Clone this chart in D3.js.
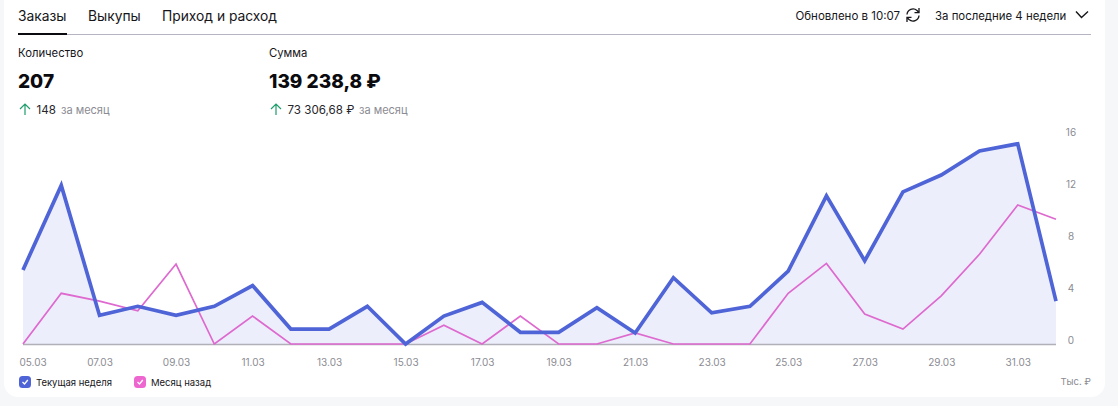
<!DOCTYPE html>
<html><head><meta charset="utf-8">
<script src="https://cdn.jsdelivr.net/npm/d3@7/dist/d3.min.js"></script>
<style>
html,body{margin:0;padding:0;background:#f6f7f9;overflow:hidden}
svg{display:block}
text{font-family:Inter,"Noto Sans",sans-serif}
.axis path,.axis line{display:none}
.axis text{fill:#8b8b93;font-size:10px;font-family:Inter,"Noto Sans",sans-serif}
</style></head><body>
<svg id="c" width="1118" height="406"></svg>
<script>
const dates=["05.03","06.03","07.03","08.03","09.03","10.03","11.03","12.03","13.03","14.03","15.03","16.03","17.03","18.03","19.03","20.03","21.03","22.03","23.03","24.03","25.03","26.03","27.03","28.03","29.03","30.03","31.03","01.04"];
const current=[5.7,12.2,2.2,2.9,2.2,2.9,4.5,1.15,1.15,2.9,0,2.15,3.2,0.9,0.9,2.8,0.85,5.1,2.4,2.9,5.6,11.4,6.4,11.7,13,14.85,15.4,3.3];
const monthAgo=[0,3.9,3.3,2.55,6.15,0,2.15,0,0,0,0,1.45,0,2.15,0,0,0.85,0,0,0,3.9,6.2,2.3,1.15,3.7,6.9,10.7,9.6];
const yTicks=[0,4,8,12,16];
const xTickLabels=dates.filter((d,i)=>i%2===0&&i<27);
const tabs=[["Заказы",18],["Выкупы",88],["Приход и расход",162]];
const legendItems=[["Текущая неделя",19,"#4f64d6"],["Месяц назад",134,"#ee66cf"]];
const metrics=[["Количество",18,"207","148","за месяц",36.5,61],["Сумма",269,"139 238,8 ₽","73 306,68 ₽","за месяц",287.5,359]];

const svg=d3.select("#c");
svg.append("path").attr("fill","#fff")
 .attr("d","M4,-20H1105V383a14,14 0 0 1 -14,14H18a14,14 0 0 1 -14,-14Z");

const x=d3.scalePoint().domain(dates).range([23,1056]);
const y=d3.scaleLinear().domain([0,16]).range([344,136]);

// header
tabs.forEach(t=>svg.append("text").attr("x",t[1]).attr("y",21).attr("font-size",13.8).attr("fill","#16161a").text(t[0]));
svg.append("line").attr("x1",18).attr("x2",1091).attr("y1",34.5).attr("y2",34.5).attr("stroke","#b4b4c2").attr("stroke-width",1);
svg.append("line").attr("x1",18).attr("x2",67).attr("y1",34).attr("y2",34).attr("stroke","#0b0b0f").attr("stroke-width",2);
svg.append("text").attr("x",795.5).attr("y",20).attr("font-size",11.5).attr("fill","#16161a").text("Обновлено в 10:07");
svg.append("text").attr("x",935).attr("y",20).attr("font-size",11.4).attr("fill","#16161a").text("За последние 4 недели");
svg.append("path").attr("d","M1076,11.5L1081.5,17.5L1088,11.5").attr("fill","none").attr("stroke","#16161a").attr("stroke-width",1.4);
svg.append("g").attr("fill","none").attr("stroke","#16161a").attr("stroke-width",1.3).call(g=>{
 g.append("path").attr("d","M907,14.5A6,6 0 0 1 917,10.5L919,12.5");
 g.append("path").attr("d","M919,8V12.7H914.5");
 g.append("path").attr("d","M919,15.5A6,6 0 0 1 909,19.5L907,17.5");
 g.append("path").attr("d","M907,22V17.3H911.5");
});

// metrics
metrics.forEach(m=>{
 svg.append("text").attr("x",m[1]).attr("y",57).attr("font-size",11.3).attr("fill","#16161a").text(m[0]);
 svg.append("text").attr("x",m[1]).attr("y",88).attr("font-size",19).attr("font-weight",800).attr("fill","#0b0b0f").text(m[2]);
 const ax=m[1]+7;
 svg.append("path").attr("d",`M${ax},115V104M${ax-5},109L${ax},104L${ax+5},109`).attr("fill","none").attr("stroke","#1f9d6b").attr("stroke-width",1.2);
 svg.append("text").attr("x",m[5]).attr("y",114).attr("font-size",11.6).attr("fill","#26262b").text(m[3]);
 svg.append("text").attr("x",m[6]).attr("y",114).attr("font-size",11).attr("fill","#8b8b93").text(m[4]);
});

// area + lines
const pts=dates.map((d,i)=>i);
svg.append("path").datum(pts).attr("fill","#eceefb")
 .attr("d",d3.area().x(i=>x(dates[i])).y0(y(0)).y1(i=>y(current[i])));
svg.append("line").attr("x1",x(dates[0])).attr("x2",x(dates[27])).attr("y1",y(0)+.5).attr("y2",y(0)+.5).attr("stroke","#b0b0b8").attr("stroke-width",1.5);
const ln=arr=>d3.line().x(i=>x(dates[i])).y(i=>y(arr[i]));
svg.append("path").datum(pts).attr("fill","none").attr("stroke","#de69cf").attr("stroke-width",1.7).attr("d",ln(monthAgo));
svg.append("path").datum(pts).attr("fill","none").attr("stroke","#4f64d6").attr("stroke-width",3.7).attr("d",ln(current));

// axes
const xa=svg.append("g").attr("class","axis").attr("transform","translate(0,356)")
 .call(d3.axisBottom(x).tickValues(xTickLabels).tickSize(0).tickPadding(3));
xa.selectAll("text").filter(d=>d===dates[0]).attr("text-anchor","start").attr("x",19-x(dates[0]));
const ya=svg.append("g").attr("class","axis").attr("transform","translate(1071,-4)")
 .call(d3.axisRight(y).tickValues(yTicks).tickSize(0).tickPadding(0));
ya.selectAll("text").attr("text-anchor","middle");
svg.append("text").attr("x",1091).attr("y",385).attr("text-anchor","end").attr("font-size",9.5).attr("fill","#8b8b93").text("Тыс. ₽");

// legend
legendItems.forEach(l=>{
 svg.append("rect").attr("x",l[1]).attr("y",376).attr("width",12).attr("height",12).attr("rx",3.5).attr("fill",l[2]);
 svg.append("path").attr("d",`M${l[1]+3.5},382L${l[1]+5.5},384L${l[1]+8.8},380`).attr("fill","none").attr("stroke","#fff").attr("stroke-width",1.3);
 svg.append("text").attr("x",l[1]+17).attr("y",386).attr("font-size",9.5).attr("fill","#16161a").text(l[0]);
});
</script>
</body></html>
